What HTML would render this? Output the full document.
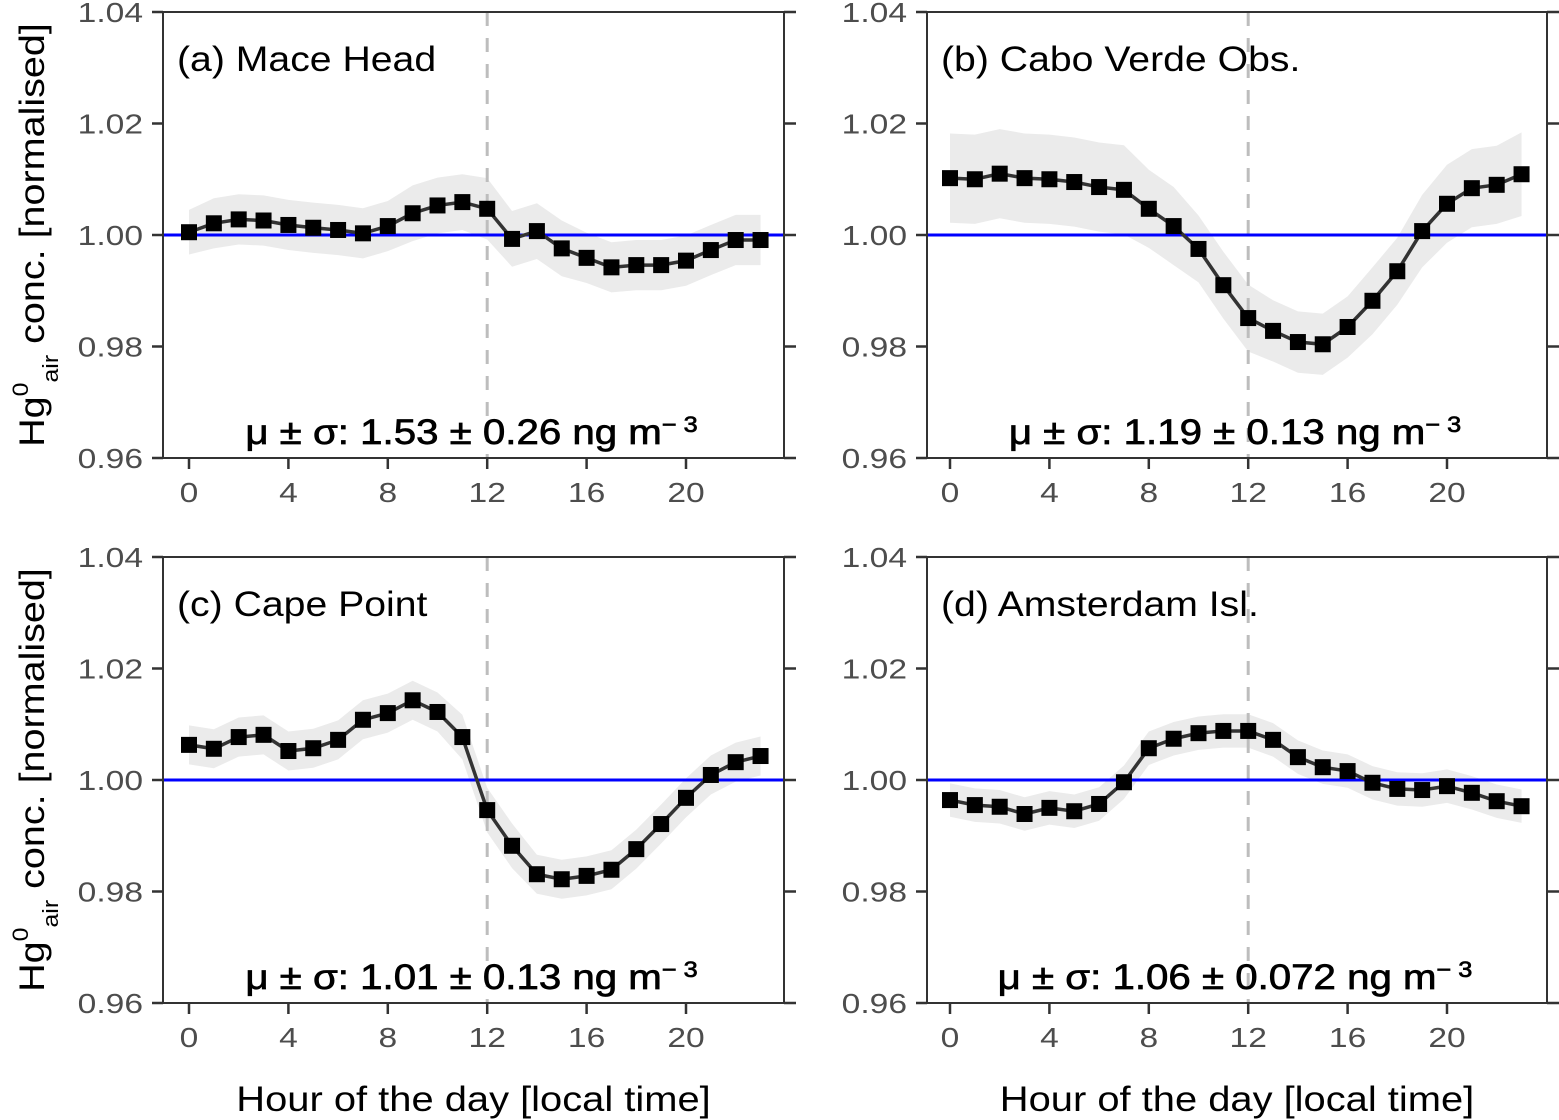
<!DOCTYPE html>
<html><head><meta charset="utf-8"><style>
body{margin:0;background:#fff}
svg{display:block;font-family:"Liberation Sans",sans-serif}
</style></head><body>
<svg id="chart" width="1559" height="1120" viewBox="0 0 1559 1120" xmlns="http://www.w3.org/2000/svg"></svg>
<script>
const hours=[0,1,2,3,4,5,6,7,8,9,10,11,12,13,14,15,16,17,18,19,20,21,22,23];
const yTicks=[0.96,0.98,1.00,1.02,1.04];
const yTickLabels=["0.96","0.98","1.00","1.02","1.04"];
const xTicks=[0,4,8,12,16,20];
const titles=["(a) Mace Head","(b) Cabo Verde Obs.","(c) Cape Point","(d) Amsterdam Isl."];
const stats=["1.53 \u00b1 0.26","1.19 \u00b1 0.13","1.01 \u00b1 0.13","1.06 \u00b1 0.072"];
const seriesA=[1.0005,1.0021,1.0028,1.0026,1.0018,1.0013,1.0009,1.0003,1.0016,1.0039,1.0053,1.0059,1.0047,0.9993,1.0007,0.9976,0.9959,0.9942,0.9946,0.9946,0.9954,0.9973,0.9991,0.9991];
const seriesB=[1.0102,1.0100,1.0110,1.0102,1.0100,1.0095,1.0086,1.0081,1.0047,1.0016,0.9975,0.9910,0.9851,0.9828,0.9808,0.9804,0.9835,0.9882,0.9935,1.0007,1.0056,1.0084,1.0090,1.0109];
const seriesC=[1.0063,1.0056,1.0077,1.0081,1.0052,1.0057,1.0072,1.0108,1.0120,1.0143,1.0122,1.0077,0.9946,0.9882,0.9831,0.9822,0.9828,0.9839,0.9876,0.9921,0.9968,1.0009,1.0032,1.0043];
const seriesD=[0.9964,0.9955,0.9952,0.9939,0.9950,0.9944,0.9957,0.9996,1.0057,1.0074,1.0084,1.0088,1.0088,1.0072,1.0041,1.0023,1.0016,0.9995,0.9984,0.9982,0.9989,0.9977,0.9962,0.9953];
const sdA=[0.004,0.0045,0.0045,0.0045,0.0045,0.0045,0.0045,0.0045,0.0045,0.005,0.005,0.005,0.0055,0.005,0.005,0.005,0.0045,0.0045,0.0045,0.0045,0.0045,0.0045,0.0045,0.0045];
const sdB=[0.008,0.008,0.008,0.008,0.008,0.008,0.008,0.008,0.007,0.007,0.006,0.006,0.006,0.0055,0.0055,0.0055,0.0055,0.006,0.006,0.0065,0.007,0.007,0.007,0.0075];
const sdC=[0.0035,0.0035,0.0035,0.0035,0.0035,0.0035,0.0035,0.0035,0.0035,0.0035,0.0035,0.004,0.004,0.004,0.0035,0.0035,0.0035,0.0035,0.0035,0.0035,0.0035,0.0035,0.0035,0.0035];
const sdD=[0.003,0.003,0.003,0.003,0.003,0.003,0.003,0.003,0.003,0.003,0.003,0.003,0.003,0.003,0.003,0.003,0.003,0.003,0.003,0.003,0.003,0.003,0.003,0.003];
const allSeries=[seriesA,seriesB,seriesC,seriesD];
const allSd=[sdA,sdB,sdC,sdD];
const NS="http://www.w3.org/2000/svg";
const svg=document.getElementById('chart');
function mk(tag,attrs,parent){const e=document.createElementNS(NS,tag);for(const k in attrs)e.setAttribute(k,attrs[k]);(parent||svg).appendChild(e);return e;}
function txt(parent,tf,anchor,size,fill,extra){
  const g=mk('g',{transform:tf},parent);
  const a={x:0,y:0,'text-anchor':anchor,'font-size':size,fill:fill};
  for(const k in (extra||{}))a[k]=extra[k];
  return mk('text',a,g);
}
const panels=[{l:163,r:784,t:12,b:458,x0:189},{l:927,r:1547,t:12,b:458,x0:950},{l:163,r:784,t:557,b:1003,x0:189},{l:927,r:1547,t:557,b:1003,x0:950}];
const pxPerHour=24.85;
panels.forEach((p,i)=>{
  const g=mk('g',{});
  
  
  const xs=h=>p.x0+h*pxPerHour;
  const ys=v=>p.b-(v-0.96)/0.08*(p.b-p.t);
  const s=allSeries[i],sd=allSd[i];
  let d='M'+hours.map((h,k)=>xs(h)+','+ys(s[k]+sd[k])).join('L');
  d+='L'+hours.slice().reverse().map(h=>xs(h)+','+ys(s[h]-sd[h])).join('L')+'Z';
  const band=mk('path',{d:d,fill:'#ebebeb'},g);
  
  
  const nl=mk('line',{x1:xs(12),x2:xs(12),y1:p.t,y2:p.b,stroke:'#bdbdbd','stroke-width':3,'stroke-dasharray':'14,12'},g);
  
  
  const rl=mk('line',{x1:p.l,x2:p.r,y1:ys(1),y2:ys(1),stroke:'#0000ff','stroke-width':3},g);
  
  
  const ln=mk('polyline',{points:hours.map((h,k)=>xs(h)+','+ys(s[k])).join(' '),fill:'none',stroke:'#333','stroke-width':3.5},g);
  
  
  hours.forEach((h,k)=>{
    const r=mk('rect',{x:xs(h)-8,y:ys(s[k])-8,width:16,height:16,fill:'#000'},g);
    
    
  });
  const fr=mk('rect',{x:p.l,y:p.t,width:p.r-p.l,height:p.b-p.t,fill:'none',stroke:'#333','stroke-width':2},g);
  
  
  yTicks.forEach((v,k)=>{
    mk('line',{x1:p.l-11,x2:p.l,y1:ys(v),y2:ys(v),stroke:'#333','stroke-width':2.5},g);
    mk('line',{x1:p.r,x2:p.r+12,y1:ys(v),y2:ys(v),stroke:'#333','stroke-width':2.5},g);
    const t=txt(g,'translate('+(p.l-20)+','+(ys(v)+10)+') scale(1.2,1)','end',28,'#4d4d4d');
    t.textContent=yTickLabels[k];
    
    
  });
  xTicks.forEach(h=>{
    mk('line',{x1:xs(h),x2:xs(h),y1:p.b,y2:p.b+11,stroke:'#333','stroke-width':2.5},g);
    const t=txt(g,'translate('+xs(h)+','+(p.b+44)+') scale(1.2,1)','middle',28,'#4d4d4d');
    t.textContent=String(h);
    
    
  });
  const tt=txt(g,'translate('+(p.l+14)+','+(p.t+59)+') scale(1.12,1)','start',35,'#000');
  tt.textContent=titles[i];
  
  
  const st=txt(g,'translate('+((p.l+p.r)/2-2)+','+(p.b-14)+') scale(1.15,1)','middle',35,'#000',{stroke:'#000','stroke-width':0.7});
  st.innerHTML='\u03bc \u00b1 \u03c3: '+stats[i]+' ng m<tspan dy="-12" font-size="22">\u2212 3</tspan>';
  
  
  if(i%2===0){
    const yt=txt(svg,'translate(44,'+((p.t+p.b)/2)+') rotate(-90) scale(1.13,1)','middle',35,'#000');
    yt.innerHTML='Hg<tspan dy="-16" font-size="22">0</tspan><tspan dy="30" font-size="22">air</tspan><tspan dy="-14"> conc. [normalised]</tspan>';
    
    
  }
  if(i>=2){
    const xt=txt(svg,'translate('+((p.l+p.r)/2)+',1111) scale(1.14,1)','middle',35,'#000');
    xt.textContent='Hour of the day [local time]';
    
    
  }
});
</script>
</body></html>
